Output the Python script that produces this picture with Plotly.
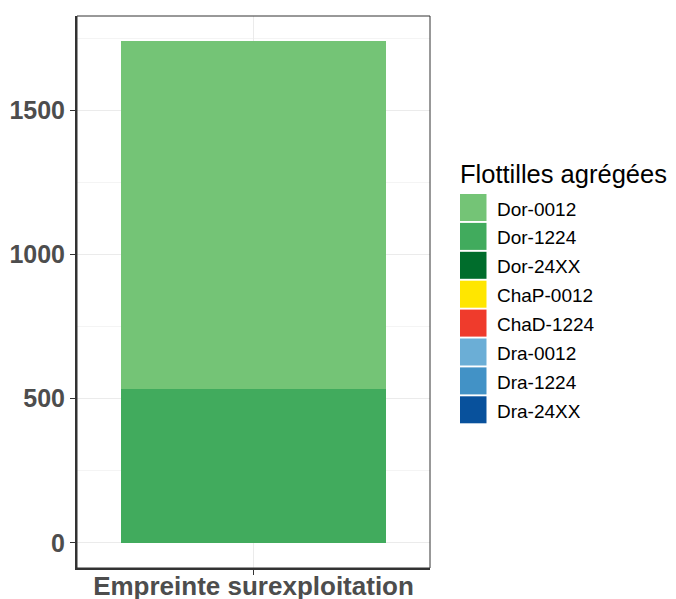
import plotly.graph_objects as go

# data
category = "Empreinte surexploitation"
fleets = ["Dor-0012", "Dor-1224", "Dor-24XX", "ChaP-0012", "ChaD-1224",
          "Dra-0012", "Dra-1224", "Dra-24XX"]
values = [1205, 535, 0, 0, 0, 0, 0, 0]
colors = ["#74C476", "#41AB5D", "#006D2C", "#FFE600", "#EF3B2C",
          "#6BAED6", "#4292C6", "#08519C"]
y_ticks = [0, 500, 1000, 1500]

# the page body has an 8px margin, so the figure sits at (8, 8) in the window
OFF = 8
W, H = 676 - OFF, 599 - OFF
# panel in window pixels: x 77..430, y 16..568
margin = dict(l=77 - OFF, r=W - (430 - OFF), t=16 - OFF, b=H - (568 - OFF))
plot_w = W - margin["l"] - margin["r"]
plot_h = H - margin["t"] - margin["b"]


def px_x(x):
    # window pixel -> paper fraction
    return (x - OFF - margin["l"]) / plot_w


def px_y(y):
    return 1 - (y - OFF - margin["t"]) / plot_h


fig = go.Figure()

# ggplot stacks first level on top -> add in reverse
for name, val, col in reversed(list(zip(fleets, values, colors))):
    fig.add_bar(
        x=[category],
        y=[val],
        name=name,
        marker=dict(color=col, line=dict(width=0)),
        width=0.9,
        showlegend=False,
        hovertemplate=f"{name}: %{{y}}<extra></extra>",
    )

# hand-made legend (large ggplot-style keys)
shapes = []
annotations = [
    dict(
        text="Flottilles agrégées",
        x=px_x(458), y=px_y(174), xref="paper", yref="paper",
        xanchor="left", yanchor="middle", showarrow=False,
        font=dict(size=25.5, color="black", family="Liberation Sans, Arial"),
    )
]
key_top = 194
key_step = 28.9
for i, (name, col) in enumerate(zip(fleets, colors)):
    y0 = key_top + i * key_step
    shapes.append(dict(
        type="rect", xref="paper", yref="paper",
        x0=px_x(460), x1=px_x(486.5), y0=px_y(y0), y1=px_y(y0 + 27),
        fillcolor=col, line=dict(width=0), layer="above",
    ))
    annotations.append(dict(
        text=name,
        x=px_x(495), y=px_y(y0 + 15), xref="paper", yref="paper",
        xanchor="left", yanchor="middle", showarrow=False,
        font=dict(size=19, color="black", family="Liberation Sans, Arial"),
    ))

# panel border (top / right thin), axis lines drawn by axes
shapes.append(dict(
    type="rect", xref="paper", yref="paper", x0=0, x1=1, y0=0, y1=1,
    line=dict(color="#333333", width=1), layer="above",
))

tick_font = dict(size=25, color="#4D4D4D", family="Liberation Sans, Arial",
                 weight="bold")

fig.update_layout(
    width=W, height=H,
    margin=dict(margin, autoexpand=False),
    barmode="stack",
    bargap=0,
    plot_bgcolor="white",
    paper_bgcolor="white",
    shapes=shapes,
    annotations=annotations,
    xaxis=dict(
        range=[-0.6, 0.6],
        automargin=False,
        showgrid=True, gridcolor="#EBEBEB", gridwidth=1,
        showline=True, linecolor="#333333", linewidth=2,
        ticks="outside", ticklen=5, tickcolor="#333333", tickwidth=1,
        tickfont=dict(tick_font, size=26),
        ticklabelstandoff=-11,
        zeroline=False,
    ),
    yaxis=dict(
        range=[-87, 1827],
        automargin=False,
        tickvals=y_ticks,
        showgrid=True, gridcolor="#EBEBEB", gridwidth=1,
        minor=dict(dtick=250, tick0=0, showgrid=True, gridcolor="#F4F4F4",
                   gridwidth=1, ticks=""),
        showline=True, linecolor="#333333", linewidth=2,
        ticks="outside", ticklen=5, tickcolor="#333333", tickwidth=1,
        tickfont=tick_font,
        ticklabelstandoff=0,
        zeroline=False,
    ),
    showlegend=False,
)

fig.write_html("out.html")
